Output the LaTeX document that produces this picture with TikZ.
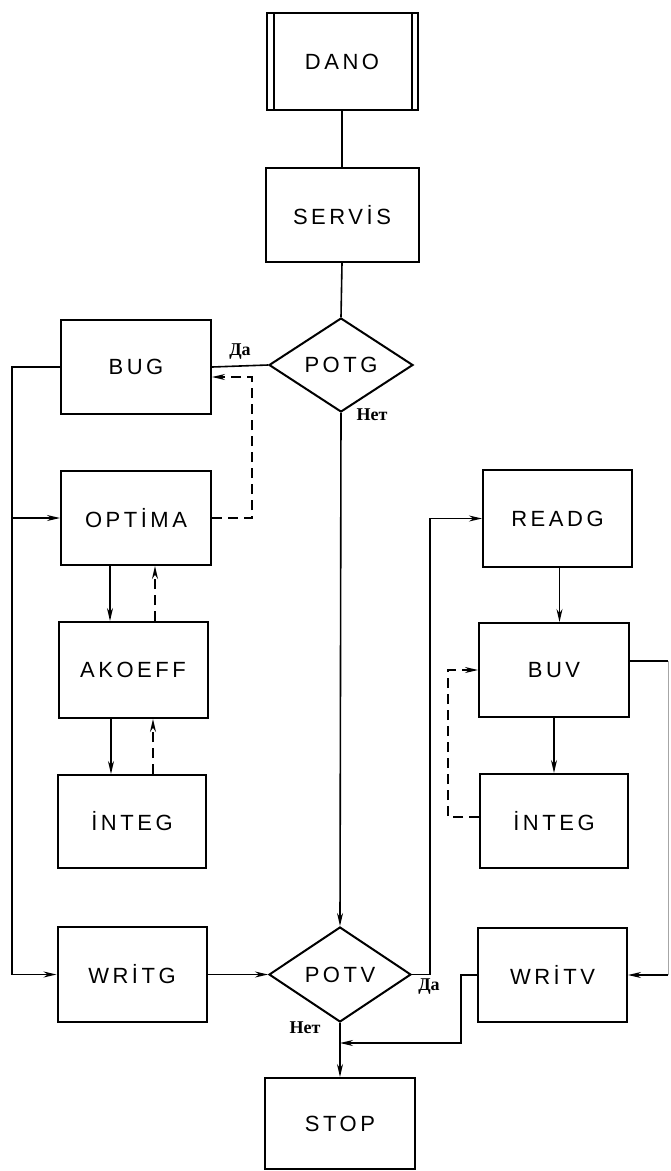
\documentclass[tikz,border=0pt]{standalone}
\usepackage{fontspec}
\usetikzlibrary{shapes.geometric,arrows.meta}
\newfontfamily\boxfont{Liberation Sans}[LetterSpace=16.0]
\newfontfamily\cyrfont{Liberation Serif}
\tikzset{
  blk/.style={draw, line width=2pt, inner sep=0pt, font=\boxfont\fontsize{22}{25}\selectfont},
  dia/.style={draw, diamond, line width=2pt, inner sep=0pt, font=\boxfont\fontsize{22}{25}\selectfont},
  conn/.style={line width=1.6pt},
  arr/.style={line width=1.6pt, -{Stealth[length=13pt,width=6pt]}},
  dsh/.style={dash pattern=on 10pt off 6pt},
  lbl/.style={font=\cyrfont\bfseries\fontsize{18}{20}\selectfont, inner sep=0pt}
}
\begin{document}
\begin{tikzpicture}[x=1pt,y=-1pt]
\useasboundingbox[fill=white] (0,0) rectangle (671,1171);
% nodes
\node[blk, minimum width=151pt, minimum height=97pt] (dano) at (342,61.5) {DANO};
\node[blk, minimum width=153pt, minimum height=94pt] (servis) at (342,215) {SERVİS};
\node[dia, minimum width=144pt, minimum height=94pt] (potg) at (341,365) {POTG};
\node[blk, minimum width=150pt, minimum height=94pt] (bug) at (136,367) {BUG};
\node[blk, minimum width=150pt, minimum height=94pt] (optima) at (136,518) {OPTİMA};
\node[blk, minimum width=149pt, minimum height=96pt] (akoeff) at (133,670) {AKOEFF};
\node[blk, minimum width=148pt, minimum height=93pt] (intega) at (132,821.5) {İNTEG};
\node[blk, minimum width=149pt, minimum height=95pt] (writg) at (132,974.5) {WRİTG};
\node[dia, minimum width=142pt, minimum height=95pt] (potv) at (340,974.5) {POTV};
\node[blk, minimum width=150pt, minimum height=91pt] (stop) at (340,1123.5) {STOP};
\node[blk, minimum width=149pt, minimum height=97pt] (readg) at (557.5,518.5) {READG};
\node[blk, minimum width=150pt, minimum height=94pt] (buv) at (554,670) {BUV};
\node[blk, minimum width=148pt, minimum height=94pt] (integb) at (554,821) {İNTEG};
\node[blk, minimum width=149pt, minimum height=94pt] (writv) at (552.5,975) {WRİTV};
% DANO double sides
\draw[line width=2pt] ([xshift=8pt]dano.north west) -- ([xshift=8pt]dano.south west);
\draw[line width=2pt] ([xshift=-7pt]dano.north east) -- ([xshift=-7pt]dano.south east);
% labels
\node[lbl] (da1) at (240,352) {Да};
\node[lbl] (net1) at (372,415) {Нет};
\node[lbl] (net2) at (305,1028) {Нет};
\node[lbl] (da2) at (429,987) {Да};
% coordinates
\coordinate (lb) at (12,0);
\coordinate (rb) at (668,0);
\coordinate (jn) at (340,1043);
% main column
\draw[conn] (dano.south) -- (servis.north);
\draw[conn] (servis.south) -- (potg.north);
\draw[conn] (potg.west) -- (bug.east);
\draw[arr] (potg.south) -- (potv.north);
\draw[arr] (potv.south) -- (stop.north);
% left loop
\draw[arr] (bug.west) -- (bug.west -| lb) |- (optima.west);
\draw[arr] (optima.west -| lb) |- (writg.west);
\draw[arr] (writg.east) -- (potv.west);
\draw[arr, dsh] (optima.east) -- ++(40,0) |- ([yshift=-10pt]bug.east);
\draw[arr] ([xshift=-26pt]optima.south) -- ([xshift=-26pt]optima.south |- akoeff.north);
\draw[arr, dsh] ([xshift=22pt]akoeff.north) -- ([xshift=22pt]akoeff.north |- optima.south);
\draw[arr] ([xshift=-22pt]akoeff.south) -- ([xshift=-22pt]akoeff.south |- intega.north);
\draw[arr, dsh] ([xshift=21pt]intega.north) -- ([xshift=21pt]intega.north |- akoeff.south);
% right branch
\draw[arr] (potv.east) -- ++(18,0) |- (readg.west);
\draw[arr] ([xshift=2pt]readg.south) -- ([xshift=2pt]readg.south |- buv.north);
\draw[arr] (buv.south) -- (integb.north);
\draw[arr, dsh] ([yshift=4pt]integb.west) -- ++(-31,0) |- (buv.west);
\coordinate (rt) at ([yshift=9pt]buv.east -| rb);
\coordinate (rbot) at (writv.east -| rb);
\draw[conn] ([yshift=9pt]buv.east) -- (rt);
\draw[line width=0.8pt, black!35] (rt) -- (rbot);
\draw[arr] (rbot) -- (writv.east);
\draw[arr] (writv.west) -- ++(-16,0) |- (jn);
\end{tikzpicture}
\end{document}
